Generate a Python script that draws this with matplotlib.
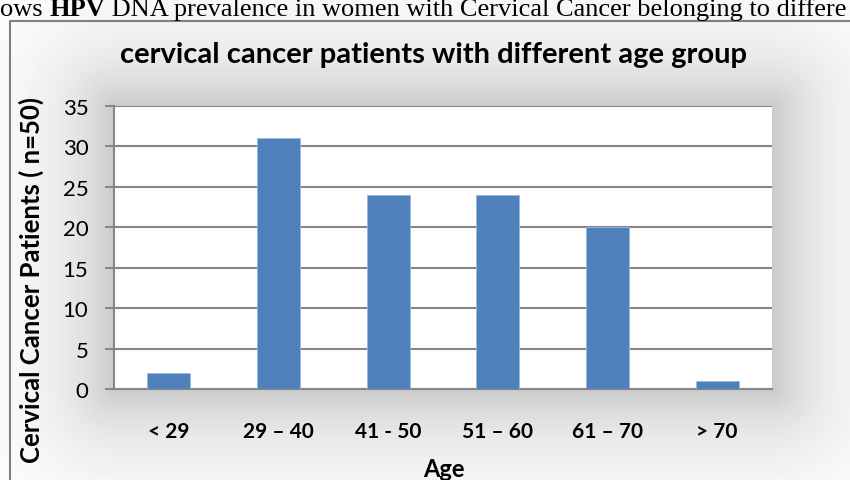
import numpy as np
import matplotlib.pyplot as plt
from matplotlib.lines import Line2D

age_groups = ["< 29", "29 \u2013 40", "41 - 50", "51 \u2013 60", "61 \u2013 70", "> 70"]
patients = [2, 31, 24, 24, 20, 1]
yticks = [0, 5, 10, 15, 20, 25, 30, 35]

W, H = 850, 481
fig = plt.figure(figsize=(W / 100, H / 100), dpi=100)
fig.patch.set_facecolor("white")

# plot area in pixels (left, top, right, bottom)
L, T, R, B = 114, 107, 772, 390

# soft drop shadow around the plot area
bg = fig.add_axes([0, 0, 1, 1], zorder=0)
xx, yy = np.meshgrid(np.arange(W), np.arange(H))
dx = np.maximum(np.maximum(L - xx, xx - R), 0)
dy = np.maximum(np.maximum(T - yy, yy - B), 0)
d = np.hypot(dx, dy)
shade = 1 - 0.21 * np.exp(-d / 55.0)
bg.imshow(shade, cmap="gray", vmin=0, vmax=1, extent=[0, W, H, 0], aspect="auto",
          interpolation="bilinear")
bg.set_xlim(0, W)
bg.set_ylim(H, 0)
bg.axis("off")

ax = fig.add_axes([L / W, (H - B) / H, (R - L) / W, (B - T) / H], zorder=2)
ax.set_facecolor("white")
x = np.arange(len(age_groups))
ax.bar(x, patients, width=0.39, color="#4F81BD", edgecolor="#9DB9DE", linewidth=0.6, zorder=3)
ax.set_xlim(-0.5, len(age_groups) - 0.5)
ax.set_ylim(0, 35)
ax.set_yticks(yticks)
ax.yaxis.grid(True, color="#868686", linewidth=1.5, zorder=0)
ax.set_axisbelow(True)

for s in ["top", "right"]:
    ax.spines[s].set_visible(False)
for s in ["left", "bottom"]:
    ax.spines[s].set_color("#868686")
    ax.spines[s].set_linewidth(1.5)

ax.set_xticks(x)
ax.set_xticklabels(age_groups, fontfamily="Lato", fontweight="bold", fontsize=15)
ax.tick_params(axis="x", length=0, pad=23)
ax.tick_params(axis="y", length=6.5, width=1.5, color="#868686", pad=12,
               labelsize=16)
for lab in ax.get_yticklabels():
    lab.set_fontfamily("Lato")

fig.text(434 / W, (H - 55) / H, "cervical cancer patients with different age group",
         ha="center", va="center", fontfamily="Lato", fontweight="bold", fontsize=21)
fig.text(444 / W, (H - 477) / H, "Age", ha="center", va="baseline",
         fontfamily="Lato", fontweight="bold", fontsize=17)
fig.text(31 / W, (H - 280) / H, "Cervical Cancer Patients ( n=50)", ha="center", va="center",
         rotation=90, fontfamily="Lato", fontweight="bold", fontsize=18.5)

# frame of the chart object
frame = fig.add_axes([0, 0, 1, 1], zorder=5)
frame.set_xlim(0, W)
frame.set_ylim(H, 0)
frame.axis("off")
frame.add_line(Line2D([10, 10, W + 5], [H + 5, 22, 22], color="#808080", linewidth=1.5))

# caption line from the page above the chart
renderer = fig.canvas.get_renderer()
parts = [("ows ", "normal"), ("HPV", "bold"),
         (" DNA prevalence in women with Cervical Cancer belonging to differe", "normal")]
xpos = 0
for txt, wt in parts:
    t = frame.text(xpos, 16, txt, ha="left", va="baseline", fontfamily="Liberation Serif",
                   fontweight=wt, fontsize=19, clip_on=True)
    bb = t.get_window_extent(renderer=renderer)
    xpos += bb.width

fig.savefig("out.png", dpi=100)
